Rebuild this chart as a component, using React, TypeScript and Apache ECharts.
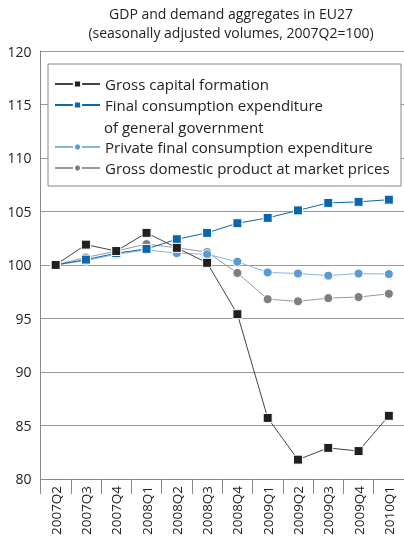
import React, { useEffect, useRef } from "react";
import * as echarts from "echarts";

const categories = ["2007Q2","2007Q3","2007Q4","2008Q1","2008Q2","2008Q3","2008Q4","2009Q1","2009Q2","2009Q3","2009Q4","2010Q1"];
const grossCapital = [100, 101.9, 101.3, 103.0, 101.6, 100.2, 95.4, 85.7, 81.8, 82.9, 82.6, 85.9];
const govConsumption = [100, 100.5, 101.1, 101.5, 102.4, 103.0, 103.9, 104.4, 105.1, 105.8, 105.9, 106.1];
const privateConsumption = [100, 100.4, 101.0, 101.4, 101.1, 101.0, 100.3, 99.3, 99.2, 99.0, 99.2, 99.15];
const gdp = [100, 100.7, 101.3, 101.95, 101.6, 101.2, 99.25, 96.8, 96.6, 96.9, 97.0, 97.3];

const yTicks = { min: 80, max: 120, interval: 5 };
const titleLines = ["GDP and demand aggregates in EU27", "(seasonally adjusted volumes, 2007Q2=100)"];
const names = [
  "Gross capital formation",
  "Final consumption expenditure of general government",
  "Private final consumption expenditure",
  "Gross domestic product at market prices",
];

const FONT = "Open Sans";

export default function App() {
  const ref = useRef<HTMLDivElement>(null);
  useEffect(() => {
    if (!ref.current) return;
    const chart = echarts.init(ref.current, null, { renderer: "svg" });
    const mk = (name: string, data: number[], symbol: string, markerColor: string, lineColor: string, size: number) => ({
      name,
      type: "line",
      data,
      symbol,
      symbolSize: size,
      showAllSymbol: true,
      itemStyle: { color: markerColor, borderColor: "#fff", borderWidth: 1 },
      lineStyle: { color: lineColor, width: 1 },
      emphasis: { disabled: true },
    });
    const legendText = { fontSize: 15, color: "#222", lineHeight: 18, fontFamily: FONT };
    chart.setOption({
      animation: false,
      textStyle: { fontFamily: FONT },
      grid: { left: 40.5, right: 0, top: 51, bottom: 55, containLabel: false },
      xAxis: {
        type: "category",
        data: categories,
        boundaryGap: true,
        axisLine: { show: true, lineStyle: { color: "#888", width: 1 } },
        axisTick: { show: true, length: 15, interval: 0, lineStyle: { color: "#888" } },
        axisLabel: { rotate: 90, margin: 7, interval: 0, fontSize: 13.5, color: "#222", fontFamily: FONT },
        splitLine: { show: false },
      },
      yAxis: {
        type: "value",
        min: yTicks.min,
        max: yTicks.max,
        interval: yTicks.interval,
        axisLine: { show: true, lineStyle: { color: "#888", width: 1 } },
        axisTick: { show: false },
        axisLabel: { fontSize: 14, color: "#222", margin: 9, fontFamily: FONT },
        splitLine: { show: true, lineStyle: { color: "#999", width: 1 } },
      },
      legend: [
        {
          data: [names[0], names[1]],
          orient: "vertical",
          left: 54,
          top: 75,
          padding: 0,
          itemWidth: 45,
          itemHeight: 9,
          itemGap: 3,
          z: 5,
          selectedMode: false,
          formatter: (n: string) => (n === names[1] ? "Final consumption expenditure" : n),
          textStyle: legendText,
        },
        {
          data: [names[2], names[3]],
          orient: "vertical",
          left: 54,
          top: 138,
          padding: 0,
          itemWidth: 45,
          itemHeight: 9,
          itemGap: 3,
          z: 5,
          selectedMode: false,
          textStyle: legendText,
        },
      ],
      graphic: [
        {
          type: "rect",
          z: 3,
          shape: { x: 48, y: 64, width: 353, height: 122 },
          style: { fill: "#fff", stroke: "#888", lineWidth: 1 },
          silent: true,
        },
        {
          type: "text",
          z: 6,
          x: 104,
          y: 127,
          style: { text: "of general government", fontSize: 15, fill: "#222", fontFamily: FONT, verticalAlign: "middle", textAlign: "left" },
          silent: true,
        },
        {
          type: "text",
          x: 231,
          y: 13,
          style: { text: titleLines[0], fontSize: 14, fill: "#222", fontFamily: FONT, textAlign: "center", verticalAlign: "middle" },
          silent: true,
        },
        {
          type: "text",
          x: 231,
          y: 32,
          style: { text: titleLines[1], fontSize: 14, fill: "#222", fontFamily: FONT, textAlign: "center", verticalAlign: "middle" },
          silent: true,
        },
      ],
      series: [
        mk(names[3], gdp, "circle", "#7f7f7f", "#9a9a9a", 9),
        mk(names[2], privateConsumption, "circle", "#5b9bd5", "#86b4df", 9),
        mk(names[1], govConsumption, "rect", "#0a67ad", "#0a67ad", 9),
        mk(names[0], grossCapital, "rect", "#231f20", "#444", 9),
      ],
    });
    return () => chart.dispose();
  }, []);
  return <div ref={ref} style={{ position: "fixed", left: 0, top: 0, width: 404, height: 538 }} />;
}
